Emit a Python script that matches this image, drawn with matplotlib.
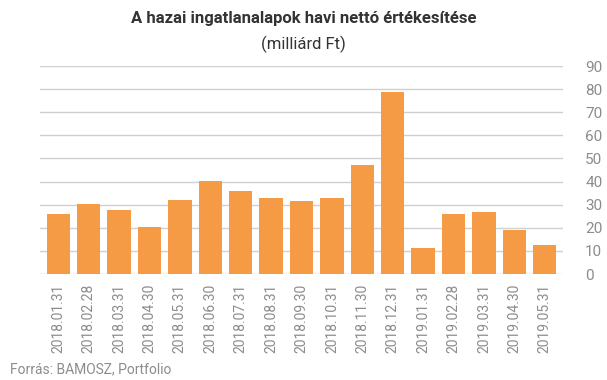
import matplotlib
matplotlib.use("Agg")
import matplotlib.pyplot as plt

categories = ["2018.01.31", "2018.02.28", "2018.03.31", "2018.04.30", "2018.05.31",
              "2018.06.30", "2018.07.31", "2018.08.31", "2018.09.30", "2018.10.31",
              "2018.11.30", "2018.12.31", "2019.01.31", "2019.02.28", "2019.03.31",
              "2019.04.30", "2019.05.31"]
values = [26.0, 30.3, 27.7, 20.3, 32.0, 40.2, 36.0, 33.0, 31.5, 33.0,
          47.2, 78.8, 11.2, 26.0, 26.8, 19.0, 12.5]
yticks = [0, 10, 20, 30, 40, 50, 60, 70, 80, 90]

plt.rcParams['font.family'] = ['Roboto', 'DejaVu Sans']

fig = plt.figure(figsize=(6.07, 3.80), dpi=100)
ax = fig.add_axes([40/607, 1-274/380, (563-40)/607, (274-66)/380])

x = list(range(len(categories)))
ax.bar(x, values, width=0.77, color="#F59B45", zorder=3)
ax.set_xlim(-0.6, len(categories)-0.4)
ax.set_ylim(0, 90)
ax.set_yticks(yticks)
ax.yaxis.tick_right()
ax.tick_params(axis='y', length=0, pad=16, labelsize=11, labelcolor="#8c8c8c")
ax.set_xticks(x)
ax.set_xticklabels(categories, rotation=90, fontsize=10, color="#8c8c8c")
ax.tick_params(axis='x', length=0, pad=7)
ax.grid(axis='y', color="#d0d0d0", linewidth=1.0, zorder=0)
for s in ax.spines.values():
    s.set_visible(False)

fig.text(0.5, 1-18/380, "A hazai ingatlanalapok havi nettó értékesítése",
         ha='center', va='center', fontsize=12, fontweight='bold', color="#333333")
fig.text(0.5, 1-44/380, "(milliárd Ft)", ha='center', va='center',
         fontsize=12, color="#333333")
fig.text(10/607, 1-369/380, "Forrás: BAMOSZ, Portfolio", ha='left', va='center',
         fontsize=10, color="#8c8c8c")

fig.savefig("out.png", dpi=100)
